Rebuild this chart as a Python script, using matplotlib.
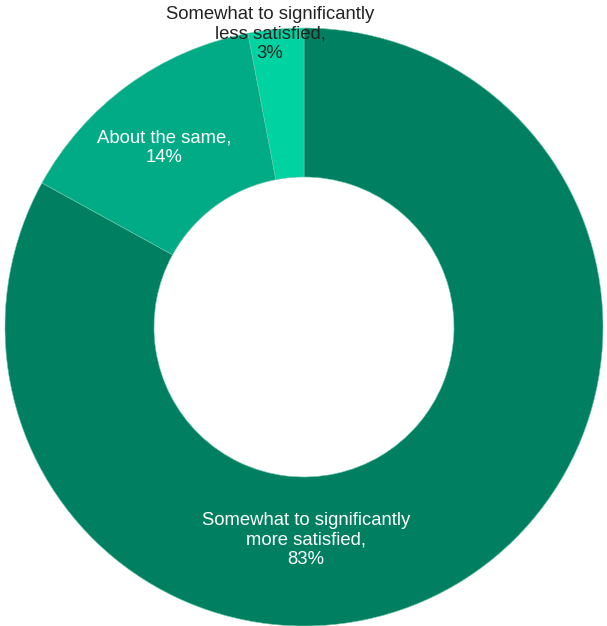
import matplotlib.pyplot as plt

# Satisfaction split, drawn clockwise from 12 o'clock
labels = ['Somewhat to significantly\nmore satisfied,', 'About the same,',
          'Somewhat to significantly\nless satisfied,']
values = [83, 14, 3]
colors = ['#008060', '#00AB86', '#00D3A2']
text_colors = ['white', 'white', '#222222']
# label anchor points (pixels, y measured from the top)
label_xy = [(306, 540), (164, 148), (270, 34)]

plt.rcParams['font.family'] = ['Liberation Sans', 'DejaVu Sans']

W, H = 607, 626
fig = plt.figure(figsize=(W / 100, H / 100), dpi=100)
ax = fig.add_axes([0, 0, 1, 1])

cx, cy, R = 304, H - 327, 299
ax.pie(values, colors=colors, startangle=90, counterclock=False,
       radius=R, center=(cx, cy), frame=True,
       wedgeprops=dict(width=R - 150, edgecolor='#6fc7ad', linewidth=0.4))
ax.set_xlim(0, W)
ax.set_ylim(0, H)
ax.set_aspect('equal')
ax.axis('off')

for lab, v, (x, y), tc in zip(labels, values, label_xy, text_colors):
    ax.text(x, H - y, f'{lab}\n{v}%', ha='center', va='center',
            fontsize=13.3, color=tc, linespacing=1.2)

fig.savefig('out.png', dpi=100, facecolor='white')
